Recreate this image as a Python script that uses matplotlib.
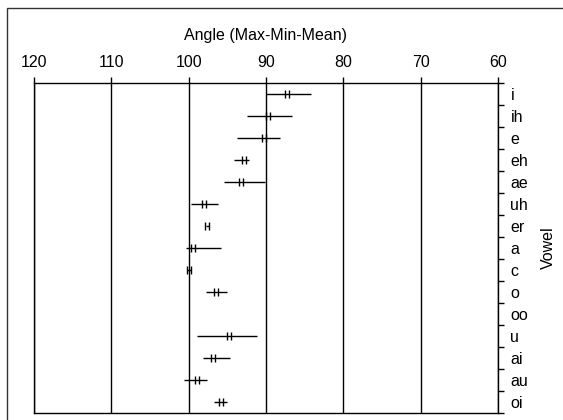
import numpy as np
import matplotlib
matplotlib.use("Agg")
import matplotlib.pyplot as plt
from matplotlib.path import Path
from matplotlib.patches import Rectangle

plt.rcParams['font.family'] = ['Liberation Sans', 'DejaVu Sans']

# data (angle in degrees)
vowels = ["i", "ih", "e", "eh", "ae", "uh", "er", "a", "c", "o", "oo", "u", "ai", "au", "oi"]
angle_max = [90.0, 92.4, 93.8, 94.2, 95.4, 99.7, 97.8, 100.4, 100.2, 97.7, np.nan, 98.9, 98.1, 100.6, 96.7]
angle_min = [84.2, 86.6, 88.2, 92.2, 90.1, 96.2, 97.4, 95.8, 99.7, 95.1, np.nan, 91.1, 94.6, 97.6, 95.1]
angle_mean = [87.3, 89.7, 90.2, 92.8, 93.2, 98.0, 97.6, 99.5, 99.9, 96.5, np.nan, 94.8, 96.9, 98.9, 95.8]
x_ticks = [120, 110, 100, 90, 80, 70, 60]

FS = 11.5

# mean marker: two short vertical bars
dbl_bar = Path([(-0.28, -0.5), (-0.28, 0.5), (0.28, -0.5), (0.28, 0.5)],
               [Path.MOVETO, Path.LINETO, Path.MOVETO, Path.LINETO])

fig = plt.figure(figsize=(5.63, 4.2), dpi=100)
ax = fig.add_axes([0.0604, 0.0167, 0.8241, 0.7857])

ypos = np.arange(len(vowels))
ax.hlines(ypos, angle_min, angle_max, color="black", lw=1)
ax.plot(angle_mean, ypos, linestyle="none", marker=dbl_bar, markersize=6,
        markeredgecolor="black", markeredgewidth=1)

ax.set_xlim(120, 60)
ax.set_ylim(len(vowels) - 0.5, -0.5)

ax.xaxis.tick_top()
ax.xaxis.set_label_position("top")
ax.set_xticks(x_ticks)
ax.set_xlabel("Angle (Max-Min-Mean)", fontsize=FS, labelpad=11)
ax.tick_params(axis="x", direction="out", length=4, width=1, pad=5, labelsize=FS)
ax.grid(axis="x", color="black", lw=1)

ax.yaxis.tick_right()
ax.yaxis.set_label_position("right")
ax.set_yticks(ypos)
ax.set_yticklabels(vowels)
ax.set_yticks(np.arange(len(vowels) + 1) - 0.5, minor=True)
ax.tick_params(axis="y", which="major", length=0, pad=9, labelsize=FS)
ax.tick_params(axis="y", which="minor", direction="out", length=4, width=1)
ax.set_ylabel("Vowel", fontsize=FS, labelpad=9)

for s in ax.spines.values():
    s.set_linewidth(1)
    s.set_color("black")

# chart border
fig.patches.append(Rectangle((7 / 563, -0.1), 1.0, 1 - 8 / 420 + 0.1, transform=fig.transFigure,
                             fill=False, edgecolor="#333333", lw=1))

fig.savefig("out.png", dpi=100)
